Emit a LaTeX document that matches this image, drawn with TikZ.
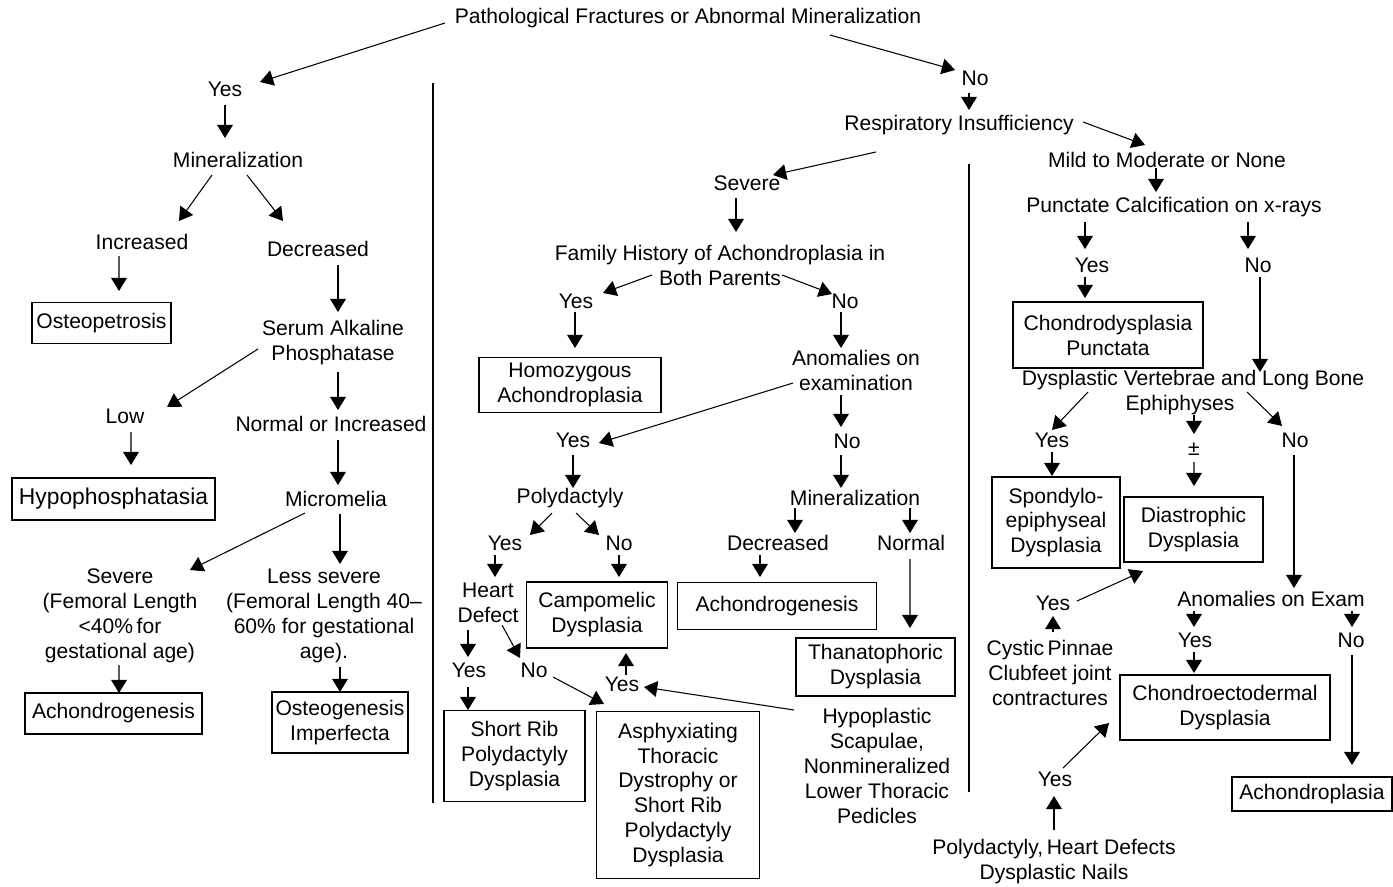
\documentclass[tikz,border=0pt]{standalone}
\usepackage{fontspec}
\setmainfont{Liberation Sans}
\usetikzlibrary{arrows.meta,calc}

\begin{document}
\begin{tikzpicture}[x=0.02cm, y=-0.02cm, font=\fontsize{12}{14.2}\selectfont,
  txt/.style={inner sep=2pt, align=center},
  bx/.style 2 args={draw, line width=0.7pt, align=center, inner sep=1pt,
    minimum width=#1*0.02cm, minimum height=#2*0.02cm},
  arr/.style={-{Triangle[length=7.5pt, width=9pt]}, line width=0.6pt},
  divider/.style={line width=1.1pt}]
  \useasboundingbox (0,0) rectangle (1393,886);
  % root question
  \node[txt] (top) at (688,18) {Pathological Fractures or Abnormal Mineralization};

  % left branch: fractures / abnormal mineralization
  \node[txt] (y1) at (225,89) {Yes};
  \node[txt] (min1) at (238,160) {Mineralization};
  \node[txt] (inc) at (142,242) {Increased};
  \node[txt] (dec) at (318,249) {Decreased};
  \node[bx={139}{41}] (osteop) at (101.5,323) {Osteopetrosis};
  \node[txt] (serum) at (333,343) {Serum Alkaline\\Phosphatase};
  \node[txt] (low) at (125,416) {Low};
  \node[txt] (norm) at (331,424) {Normal or Increased};
  \node[bx={203}{42}, font=\fontsize{13}{15}\selectfont] (hypo) at (113.5,499) {Hypophosphatasia};
  \node[txt] (micro) at (336,499) {Micromelia};
  \node[txt] (sev) at (120,616) {Severe\\(Femoral Length\\<40\%\,for\\gestational age)};
  \node[txt] (less) at (324,616) {Less severe\\(Femoral Length 40–\\60\% for gestational\\age).};
  \node[bx={177}{41}] (achg1) at (113.5,713.5) {Achondrogenesis};
  \node[bx={136}{61}] (oi) at (340,722.5) {Osteogenesis\\Imperfecta};

  \draw[arr] ($(top)+(-243,5)$) -- ($(y1)+(35,-7)$);
  \draw[arr] ($(y1)+(0,16)$) -- ($(min1)+(-13,-22)$);
  \draw[arr] ($(min1)+(-26,15)$) -- ($(inc)+(37,-21)$);
  \draw[arr] ($(min1)+(9,15)$) -- ($(dec)+(-35,-28)$);
  \draw[arr] ($(inc)+(-23,14)$) -- ($(osteop)+(17.5,-32)$);
  \draw[arr] ($(dec)+(20,16)$) -- ($(serum)+(5,-31)$);
  \draw[arr] ($(serum)+(-75,6)$) -- ($(low)+(42,-9)$);
  \draw[arr] ($(serum)+(5,29)$) -- ($(norm)+(7,-14)$);
  \draw[arr] ($(low)+(6,16)$) -- ($(hypo)+(17.5,-34)$);
  \draw[arr] ($(norm)+(7,16)$) -- ($(micro)+(2,-14)$);
  \draw[arr] ($(micro)+(-31,14)$) -- ($(sev)+(70,-46)$);
  \draw[arr] ($(micro)+(4,15)$) -- ($(less)+(16,-52)$);
  \draw[arr] ($(sev)+(-1,49)$) -- ($(achg1)+(5.5,-20.5)$);
  \draw[arr] ($(less)+(16,51)$) -- ($(oi)+(0,-30.5)$);

  % dividers
  \draw[divider] (433,83) -- (433,803);
  \draw[divider] (969,164) -- (969,792);

  % middle branch: severe respiratory insufficiency
  \node[txt] (no1) at (975,78) {No};
  \node[txt] (resp) at (959,125) {Respiratory Insufficiency};
  \node[txt] (sev2) at (747,183) {Severe};
  \node[txt] (fam) at (720,265) {Family History of Achondroplasia in\\Both Parents};
  \node[txt] (fy) at (576,301) {Yes};
  \node[txt] (fn) at (845,301) {No};
  \node[bx={182}{55}] (homo) at (570,385) {Homozygous\\Achondroplasia};
  \node[txt] (anom) at (856,370) {Anomalies on\\examination};
  \node[txt] (ay) at (573,440) {Yes};
  \node[txt] (an) at (847,441) {No};
  \node[txt] (poly) at (570,498) {Polydactyly};
  \node[txt] (min2) at (855,498) {Mineralization};
  \node[txt] (py) at (505,543) {Yes};
  \node[txt] (pn) at (619,543) {No};
  \node[txt] (dec2) at (778,543) {Decreased};
  \node[txt] (nrm2) at (911,543) {Normal};
  \node[txt] (heart) at (488,603) {Heart\\Defect};
  \node[bx={141}{66}] (campo) at (597,615) {Campomelic\\Dysplasia};
  \node[bx={199}{47}] (achg2) at (777,606) {Achondrogenesis};
  \node[bx={159}{58}] (thana) at (875.5,667) {Thanatophoric\\Dysplasia};
  \node[txt] (hy) at (469,670) {Yes};
  \node[txt] (hn) at (534,670) {No};
  \node[txt] (cy) at (622,684) {Yes};
  \node[bx={141}{91}] (srp) at (514.5,756) {Short Rib\\Polydactyly\\Dysplasia};
  \node[bx={163}{167}] (atd) at (678,795) {Asphyxiating\\Thoracic\\Dystrophy or\\Short Rib\\Polydactyly\\Dysplasia};
  \node[txt] (hypop) at (877,766) {Hypoplastic\\Scapulae,\\Nonmineralized\\Lower Thoracic\\Pedicles};

  \draw[arr] ($(top)+(142,17)$) -- ($(no1)+(-20,-8)$);
  \draw[arr] ($(no1)+(-6,15)$) -- ($(resp)+(10,-15)$);
  \draw[arr] ($(resp)+(-83,27)$) -- ($(sev2)+(26,-8)$);
  \draw[arr] ($(sev2)+(-11,15)$) -- ($(fam)+(16,-33)$);
  \draw[arr] ($(fam)+(-68,10)$) -- ($(fy)+(27,-8)$);
  \draw[arr] ($(fam)+(62,10)$) -- ($(fn)+(-13,-7)$);
  \draw[arr] ($(fy)+(-1,11)$) -- ($(homo)+(5,-37)$);
  \draw[arr] ($(fn)+(-4,11)$) -- ($(anom)+(-15,-22)$);
  \draw[arr] ($(anom)+(-63,13)$) -- ($(ay)+(26,3)$);
  \draw[arr] ($(anom)+(-15,25)$) -- ($(an)+(-6,-14)$);
  \draw[arr] ($(ay)+(0,15)$) -- ($(poly)+(3,-10)$);
  \draw[arr] ($(an)+(-6,14)$) -- ($(min2)+(-14,-10)$);
  \draw[arr] ($(poly)+(-18,15)$) -- ($(py)+(25,-8)$);
  \draw[arr] ($(poly)+(6,15)$) -- ($(pn)+(-20,-8)$);
  \draw[arr] ($(min2)+(-60,10)$) -- ($(dec2)+(17,-10)$);
  \draw[arr] ($(min2)+(55,10)$) -- ($(nrm2)+(-1,-10)$);
  \draw[arr] ($(py)+(-10,12)$) -- ($(heart)+(7,-26)$);
  \draw[arr] ($(pn)+(0,12)$) -- ($(campo)+(22,-38)$);
  \draw[arr] ($(dec2)+(-18,12)$) -- ($(achg2)+(-17,-29)$);
  \draw[arr] ($(nrm2)+(-1,16)$) -- ($(thana)+(34.5,-39)$);
  \draw[arr] ($(heart)+(-20,27)$) -- ($(hy)+(-1,-13)$);
  \draw[arr] ($(heart)+(14,22)$) -- ($(hn)+(-14,-12)$);
  \draw[arr] ($(hy)+(-1,17)$) -- ($(srp)+(-46.5,-46)$);
  \draw[arr] ($(hn)+(19,7)$) -- ($(atd)+(-74,-91)$);
  \draw[arr] ($(cy)+(4,-9)$) -- ($(campo)+(29,38)$);
  \draw[arr] ($(hypop)+(-83,-56)$) -- ($(cy)+(22,3)$);

  % right branch: mild to moderate or none
  \node[txt] (mild) at (1167,160) {Mild to Moderate or None};
  \node[txt] (punct) at (1174,207) {Punctate Calcification on x-rays};
  \node[txt] (pcy) at (1092,265) {Yes};
  \node[txt] (pcn) at (1258,265) {No};
  \node[bx={190}{66}] (chpunct) at (1108,335) {Chondrodysplasia\\Punctata};
  \node[txt] (dvl) at (1193,393) {Dysplastic Vertebrae and Long Bone\\Ephiphyses\hspace*{0.52cm}};
  \node[txt] (dy) at (1052,440) {Yes};
  \node[txt] (dpm) at (1194,449) {±};
  \node[txt] (dn) at (1295,440) {No};
  \node[bx={128}{91}] (sed) at (1056,522.5) {Spondylo-\\epiphyseal\\Dysplasia};
  \node[bx={139}{65}] (dia) at (1193.5,529.5) {Diastrophic\\Dysplasia};
  \node[txt] (cyy) at (1053,603) {Yes};
  \node[txt] (cystic) at (1050,673) {Cystic\,Pinnae\\Clubfeet joint\\contractures};
  \node[txt] (aoe) at (1271,599) {Anomalies on Exam};
  \node[txt] (ey) at (1195,640) {Yes};
  \node[txt] (en) at (1351,640) {No};
  \node[bx={210}{65}] (chec) at (1225,707.5) {Chondroectodermal\\Dysplasia};
  \node[bx={160}{34}] (achp) at (1312,794) {Achondroplasia};
  \node[txt] (pyy) at (1055,779) {Yes};
  \node[txt] (polyh) at (1054,862) {Polydactyly,\,Heart Defects\\Dysplastic Nails};

  \draw[arr] ($(resp)+(124,-3)$) -- ($(mild)+(-22,-15)$);
  \draw[arr] ($(mild)+(-11,8)$) -- ($(punct)+(-18,-15)$);
  \draw[arr] ($(punct)+(-89,15)$) -- ($(pcy)+(-7,-16)$);
  \draw[arr] ($(punct)+(74,15)$) -- ($(pcn)+(-10,-16)$);
  \draw[arr] ($(pcy)+(-7,12)$) -- ($(chpunct)+(-23,-37)$);
  \draw[arr] ($(pcn)+(2,12)$) -- ($(dvl)+(67,-21)$);
  \draw[arr] ($(dvl)+(-105,-1)$) -- ($(dy)+(0,-10)$);
  \draw[arr] ($(dvl)+(1,22)$) -- ($(dpm)+(0,-15)$);
  \draw[arr] ($(dvl)+(54,-1)$) -- ($(dn)+(-13,-14)$);
  \draw[arr] ($(dpm)+(0,13)$) -- ($(dia)+(0.5,-43.5)$);
  \draw[arr] ($(dy)+(0,12)$) -- ($(sed)+(-4,-46.5)$);
  \draw[arr] ($(dn)+(-1,15)$) -- ($(aoe)+(23,-11)$);
  \draw[arr] ($(cyy)+(24,-2)$) -- ($(dia)+(-50.5,41.5)$);
  \draw[arr] ($(cystic)+(3,-41)$) -- ($(cyy)+(0,13)$);
  \draw[arr] ($(aoe)+(-77,12)$) -- ($(ey)+(-1,-13)$);
  \draw[arr] ($(aoe)+(81,12)$) -- ($(en)+(1,-13)$);
  \draw[arr] ($(ey)+(-1,12)$) -- ($(chec)+(-31,-34.5)$);
  \draw[arr] ($(en)+(1,15)$) -- ($(achp)+(40,-29)$);
  \draw[arr] ($(polyh)+(0,-32)$) -- ($(pyy)+(-1,17)$);
  \draw[arr] ($(pyy)+(8,-11)$) -- ($(chec)+(-116,15.5)$);
\end{tikzpicture}
\end{document}
